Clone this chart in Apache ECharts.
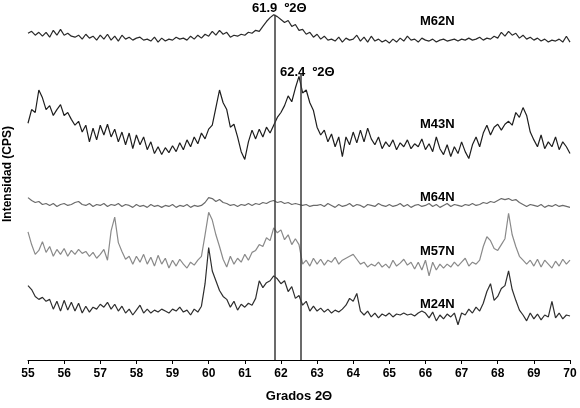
<!DOCTYPE html>
<html>
<head>
<meta charset="utf-8">
<script src="https://cdn.jsdelivr.net/npm/echarts@6/dist/echarts.min.js"></script>
<style>html,body{margin:0;padding:0;background:#fff}#c{width:580px;height:408px}</style>
</head>
<body>
<div id="c"></div>
<script>
// scan grid: 55.0 to 70.0 degrees 2-theta, step 0.1
const twoTheta = Array.from({length: 151}, (_, i) => +(55 + i * 0.1).toFixed(1));
const xTicks = [55,56,57,58,59,60,61,62,63,64,65,66,67,68,69,70];
const seriesNames = ['M62N','M43N','M64N','M57N','M24N'];

const m62n = [
366,368,364,367,363,367,362,369,364,370,
364,366,363,362,364,360,365,361,363,359,
364,360,365,359,363,358,364,360,362,359,
361,362,359,360,358,362,357,361,358,360,
359,362,360,361,359,363,360,364,361,365,
363,368,364,369,365,367,362,364,363,365,
364,367,366,369,368,373,378,382,385,383,
380,377,379,373,375,369,370,365,367,362,
365,360,363,359,360,358,362,357,361,359,
360,364,358,362,357,363,358,360,357,359,
356,360,357,361,358,363,359,360,357,361,
359,358,360,357,359,360,358,359,360,358,
360,359,361,359,360,362,359,361,360,363,
361,367,363,368,364,366,361,364,360,362,
359,361,358,360,357,359,358,360,357,363,
357];

const m43n = [
274,288,285,308,300,288,292,282,288,293,
282,285,278,272,276,265,272,255,269,257,
272,262,273,260,268,255,265,252,264,248,
262,252,260,247,255,243,250,242,249,244,
251,245,254,247,257,250,260,253,264,258,
268,272,290,308,295,288,270,273,260,245,
237,255,267,258,268,260,270,264,272,280,
285,292,302,296,310,322,305,308,295,287,
270,262,267,255,263,250,260,240,260,252,
265,254,267,255,269,258,252,260,248,255,
250,257,247,254,250,257,248,253,250,258,
247,253,245,260,248,242,252,240,250,243,
255,245,238,252,260,250,264,272,262,270,
273,267,273,276,272,285,280,290,282,265,
257,250,262,248,255,250,260,247,255,250,
243];

const m64n = [
198,195,193,194,191,192,190,192,189,191,
192,190,191,193,194,191,190,192,189,191,
190,192,189,191,190,192,189,191,190,188,
191,189,190,188,191,189,190,188,190,189,
191,188,190,189,191,188,190,189,190,193,
198,197,194,196,193,192,190,191,189,191,
190,192,190,192,191,193,192,194,195,193,
194,192,193,191,192,191,190,191,189,190,
190,191,189,192,190,188,191,189,190,192,
189,191,190,188,191,190,189,192,190,189,
191,189,190,192,189,191,188,190,191,189,
190,192,189,191,188,190,192,189,191,190,
189,191,190,192,190,191,193,192,194,193,
195,197,196,197,195,196,193,191,189,191,
190,189,191,188,190,189,191,189,190,189,
188];

const m57n = [
163,150,140,144,153,142,148,138,145,140,
146,138,144,140,145,141,143,138,142,136,
140,145,134,164,178,152,143,135,138,130,
138,132,140,130,137,128,139,130,136,126,
134,128,135,130,126,132,129,134,138,160,
183,175,160,148,135,127,138,130,136,132,
140,134,142,144,150,148,157,154,167,162,
165,155,160,150,156,150,130,134,128,136,
130,135,129,134,132,137,130,134,136,138,
140,135,130,132,127,130,128,132,127,130,
126,134,128,131,135,129,132,125,132,124,
134,118,132,124,130,126,130,127,132,128,
132,136,128,132,130,134,148,158,154,146,
144,150,156,182,160,148,138,134,130,134,
128,135,127,134,130,126,133,128,135,130,
134];

const m24n = [
108,104,97,94,96,92,94,84,92,82,
93,83,91,82,90,80,87,81,86,84,
89,86,91,84,89,82,87,80,84,78,
83,88,80,84,80,83,81,84,82,80,
84,82,86,81,83,78,84,81,87,110,
147,123,113,103,97,94,86,92,83,89,
86,90,88,95,113,106,111,113,118,115,
110,113,102,107,95,98,88,92,82,87,
82,85,81,84,80,83,81,84,88,95,
92,100,82,78,82,76,80,75,79,77,
80,76,79,78,80,78,79,77,80,82,
80,75,81,72,78,74,79,76,80,68,
80,78,84,80,86,82,90,102,110,93,
97,105,108,123,104,93,83,78,72,80,
74,79,73,78,76,92,75,80,74,78,
77];

// reference peak positions and annotations
const peakPos = [61.83, 62.56];
const peakTop = [385, 325];
const peakText = ['61.9  º2Θ', '62.4  º2Θ'];

const allData = [m62n, m43n, m64n, m57n, m24n];
const colors = ['#2a2a2a', '#1e1e1e', '#6a6a6a', '#8a8a8a', '#2e2e2e'];
const yMin = 32, yMax = 400;

const chart = echarts.init(document.getElementById('c'), null, {renderer: 'canvas'});
const series = allData.map((d, k) => ({
  name: seriesNames[k],
  type: 'line',
  data: d.map((v, i) => [twoTheta[i], v]),
  showSymbol: false,
  symbol: 'none',
  lineStyle: {color: colors[k], width: 1.2},
  silent: true,
  animation: false,
  z: 3
}));
series[0].markLine = {
  symbol: 'none',
  silent: true,
  animation: false,
  label: {show: false},
  lineStyle: {color: '#3a3a3a', width: 1.5, type: 'solid'},
  data: peakPos.map((p, j) => [{coord: [p, peakTop[j]]}, {coord: [p, yMin]}])
};

const font = 'bold 13px "Liberation Sans", Arial, sans-serif';
const graphics = [];
const labelY = [22, 125, 198, 252, 305];
seriesNames.forEach((n, k) => graphics.push({
  type: 'text', left: 420, top: labelY[k] - 7,
  style: {text: n, font: font, fill: '#000'}
}));
graphics.push({type: 'text', x: 252, y: 2, style: {text: peakText[0], font: font, fill: '#000'}});
graphics.push({type: 'text', x: 280, y: 66, style: {text: peakText[1], font: font, fill: '#000'}});
graphics.push({
  type: 'text', x: 2, y: 222, rotation: Math.PI / 2,
  style: {text: 'Intensidad (CPS)', font: 'bold 12px "Liberation Sans", Arial, sans-serif', fill: '#000'}
});

chart.setOption({
  backgroundColor: '#fff',
  animation: false,
  grid: {left: 28, right: 10, top: 0, bottom: 40},
  xAxis: {
    type: 'value', min: 55, max: 70, interval: 1,
    name: 'Grados 2Θ', nameLocation: 'middle', nameGap: 30,
    nameTextStyle: {fontFamily: '"Liberation Sans", Arial, sans-serif', fontWeight: 'bold', fontSize: 13, color: '#000'},
    axisLine: {show: true, lineStyle: {color: '#000', width: 1}},
    axisTick: {show: true, inside: false, length: 4, lineStyle: {color: '#000'}},
    axisLabel: {
      color: '#000', fontSize: 12, fontWeight: 'bold', margin: 8,
      fontFamily: '"Liberation Sans", Arial, sans-serif',
      formatter: v => xTicks.includes(v) ? String(v) : ''
    },
    splitLine: {show: false}
  },
  yAxis: {
    type: 'value', min: yMin, max: yMax, show: false, splitLine: {show: false}
  },
  graphic: graphics,
  series: series
});
</script>
</body>
</html>
